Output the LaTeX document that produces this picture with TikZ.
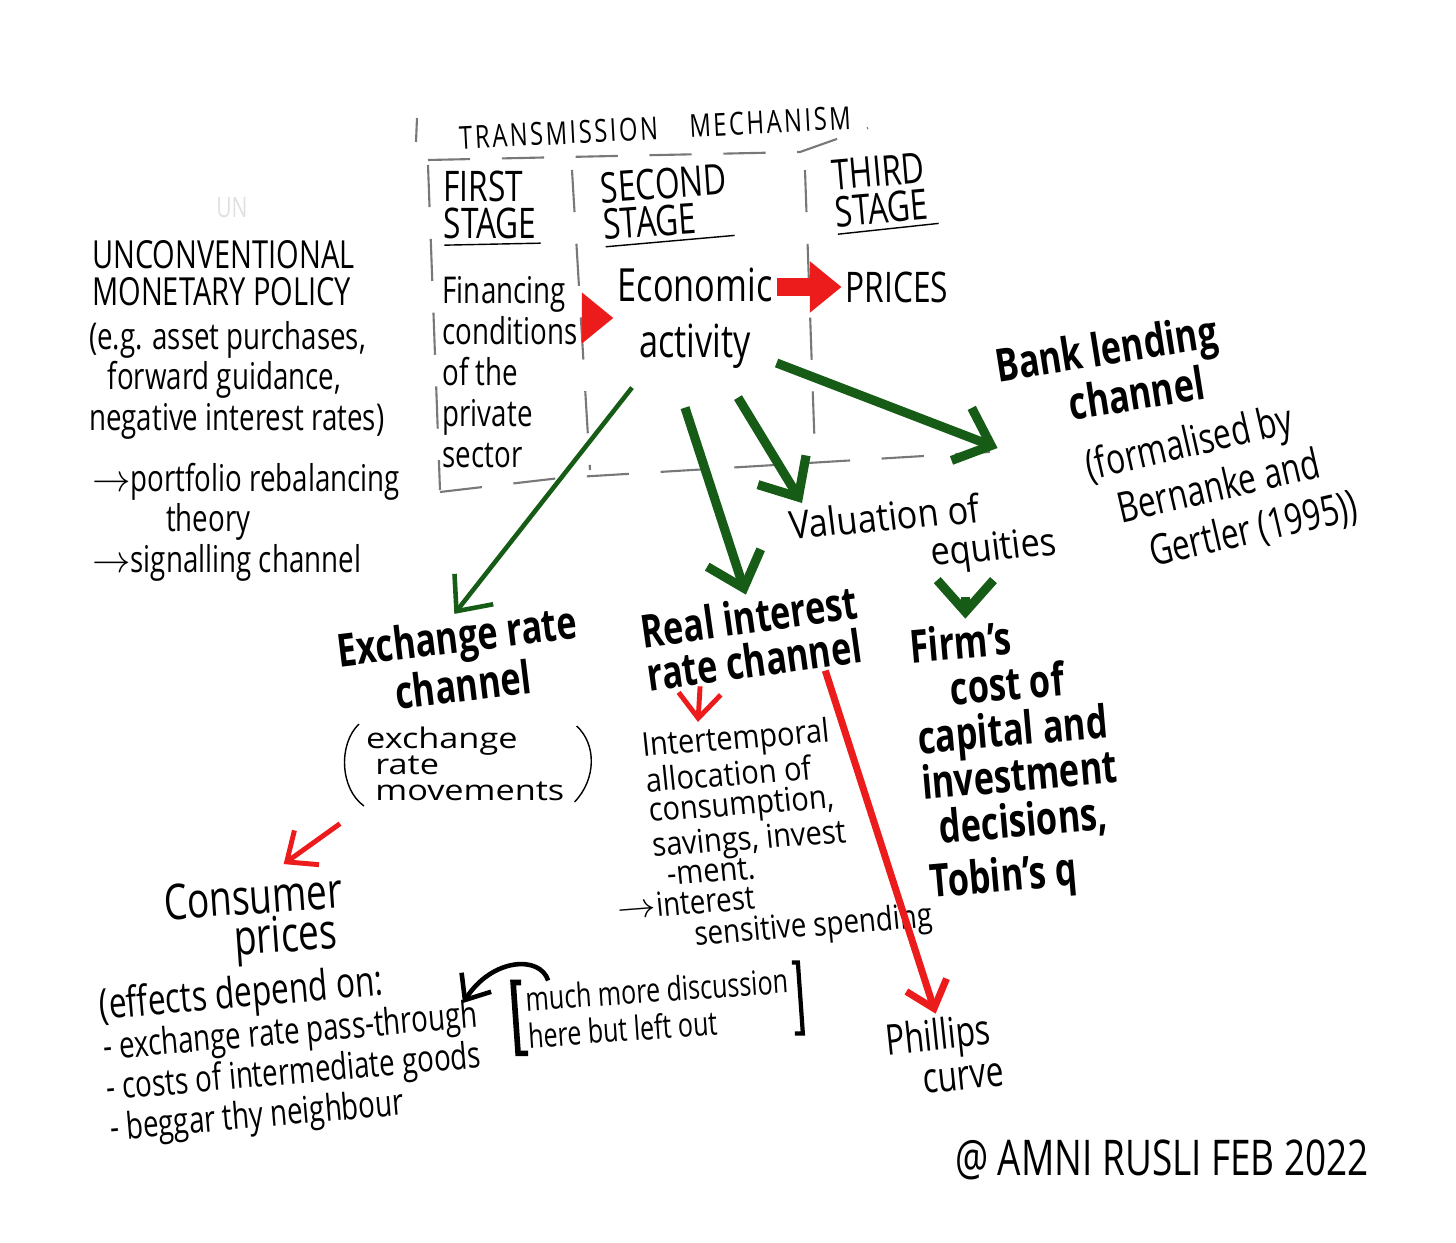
\documentclass[tikz,border=0pt]{standalone}
\usepackage{fontspec}
\setmainfont[FakeStretch=0.75]{Open Sans}
\usetikzlibrary{arrows.meta,calc}

\definecolor{inkgreen}{RGB}{22,92,22}
\definecolor{inkred}{RGB}{236,28,28}
\definecolor{boxgray}{RGB}{120,120,120}

\tikzset{
  pen/.style={font=\fontsize{10.5}{11.5}\selectfont, align=left, inner sep=1pt},
  penbig/.style={font=\fontsize{13}{15.5}\selectfont, align=center, inner sep=1pt},
  capsthin/.style={font=\fontsize{11}{10.5}\selectfont, align=left, inner sep=1pt},
  channel/.style={font=\bfseries\fontsize{13}{12.5}\selectfont, align=center, inner sep=1pt},
  stagebox/.style={boxgray, line width=0.6pt, dash pattern=on 12pt off 9pt},
  greenthick/.style={-{Straight Barb[length=9pt,width=16pt]}, inkgreen, line width=2.6pt},
  greenthin/.style={-{Straight Barb[length=8pt,width=14pt]}, inkgreen, line width=1.3pt},
  redthin/.style={-{Straight Barb[length=7pt,width=12pt]}, inkred, line width=1.4pt},
  redblock/.style={-{Triangle[length=9pt,width=14pt]}, inkred, line width=5pt},
}

\begin{document}
\begin{tikzpicture}[x=0.01cm, y=-0.01cm]
\useasboundingbox (0,0) rectangle (1456,1243);

%%%% Transmission mechanism box
\node[capsthin, rotate=3, font=\fontsize{9}{10}\selectfont\addfontfeature{LetterSpace=8}] (title) at (655,128) {TRANSMISSION\quad MECHANISM};
\draw[boxgray, line width=0.6pt] (417,118) -- (416,142);
\draw[stagebox] (428,160) -- (800,152) -- (868,128);
\draw[stagebox] (428,165) -- (440,490);
\draw[stagebox] (440,492) -- (560,478) -- (990,452);
\draw[stagebox] (572,170) -- (590,470);
\draw[stagebox] (805,170) -- (815,455);

%%%% Stage headers
\node[capsthin, font=\fontsize{12}{10.5}\selectfont] (first) at (490,205) {FIRST\\STAGE};
\node[capsthin, font=\fontsize{12}{10.5}\selectfont, rotate=4] (second) at (665,202) {SECOND\\STAGE};
\node[capsthin, font=\fontsize{12}{10.5}\selectfont, rotate=5] (third) at (880,190) {THIRD\\STAGE};
\draw ($(first.south west)+(5,2)$) -- ($(first.south east)+(0,0)$);
\draw ($(second.south west)+(5,2)$) -- ($(second.south east)+(0,0)$);
\draw ($(third.south west)+(5,2)$) -- ($(third.south east)+(5,0)$);

%%%% Stage contents
\node[pen, font=\fontsize{10.5}{11.7}\selectfont] (fin) at (510,372) {Financing\\conditions\\of the\\private\\sector};
\node[penbig, font=\fontsize{13}{16}\selectfont] (econ) at (695,318) {Economic\\activity};
\node[capsthin, font=\fontsize{12}{12}\selectfont] (prices) at (897,287) {PRICES};
\draw[redblock] (fin.east |- econ.west) -- (econ.west);
\draw[redblock] (econ.east |- prices.west) -- (prices.west);

%%%% Left column
\node[capsthin, text=black!12, font=\fontsize{8}{8}\selectfont] (un) at (232,208) {UN};
\node[capsthin, anchor=west] (ump) at (88,273) {UNCONVENTIONAL\\MONETARY POLICY};
\node[pen, anchor=west] (eg) at (85,380) {(e.g. asset purchases,\\\hspace{.5em}forward guidance,\\negative interest rates)};
\node[pen, anchor=west] (portf) at (88,522) {$\rightarrow$portfolio rebalancing\\\hspace{2em}theory\\$\rightarrow$signalling channel};

%%%% Channels
\node[channel, rotate=7] (exch) at (460,660) {Exchange rate\\channel};
\node[pen, font=\fontsize{13}{12}\selectfont, yscale=0.62, anchor=west] (exmove) at (362,764) {exchange\\\hspace{.2em}rate\\\hspace{.2em}movements};
\draw ($(exmove.west)+(-3,-40)$) .. controls ($(exmove.west)+(-24,-20)$) and ($(exmove.west)+(-22,25)$) .. ($(exmove.west)+(2,42)$);
\draw ($(exmove.east)+(8,-38)$) .. controls ($(exmove.east)+(28,-20)$) and ($(exmove.east)+(28,15)$) .. ($(exmove.east)+(6,38)$);
\node[channel, rotate=8, align=left] (realint) at (752,638) {Real interest\\rate channel};
\node[pen, font=\fontsize{13}{13}\selectfont, yscale=0.85, rotate=6, anchor=west] (val) at (788,549) {Valuation of\\\hspace{3em}equities};
\node[channel, rotate=5, align=left, font=\bfseries\fontsize{13}{13}\selectfont] (firm) at (1018,760) {Firm's\\\hspace{.8em}cost of\\capital and\\investment\\\hspace{.3em}decisions,\\[2pt]Tobin's q};
\node[channel, rotate=9] (bank) at (1110,372) {Bank lending\\\hspace{1em}channel};
\node[pen, font=\fontsize{12}{14}\selectfont, rotate=13] (bankref) at (1222,487) {(formalised by\\\hspace{.5em}Bernanke and\\\hspace{1em}Gertler (1995))};

%%%% Sub-effects
\node[pen, font=\fontsize{11}{10}\selectfont, yscale=0.85, rotate=5, anchor=north west] (inter) at (636,728) {Intertemporal\\allocation of\\consumption,\\savings, invest\\\hspace{.3em}-ment.};
\node[pen, font=\fontsize{10.5}{10}\selectfont, yscale=0.9, rotate=5, anchor=north west] (spend) at (612,892) {$\rightarrow$interest\\\hspace{2em}sensitive spending};
\node[penbig, font=\fontsize{14}{10}\selectfont, rotate=4] (consumer) at (255,922) {Consumer\\\hspace{1.2em}prices};
\node[pen, font=\fontsize{12}{12}\selectfont, rotate=6, align=center] (phillips) at (940,1055) {Phillips\\\hspace{1em}curve};
\node[pen, rotate=5] (effects) at (292,1052) {{\fontsize{12}{12}\selectfont(effects depend on:}\\- exchange rate pass-through\\- costs of intermediate goods\\- beggar thy neighbour};
\node[pen, font=\fontsize{9.5}{10.5}\selectfont, rotate=4, inner xsep=3pt] (disc) at (658,1008) {much more discussion\\here but left out};
\draw[line width=1.6pt] ($(disc.north west)+(8,0)$) -- (disc.north west) -- (disc.south west) -- ($(disc.south west)+(10,0)$);
\draw[line width=1.2pt] ($(disc.north east)+(-6,0)$) -- (disc.north east) -- (disc.south east) -- ($(disc.south east)+(-8,0)$);
\coordinate (passthru) at (463,1003);
\draw[-{Straight Barb[length=6pt,width=10pt]}, line width=1.3pt] ($(disc.north west)+(35,-2)$) .. controls (540,955) and (492,958) .. (passthru);

%%%% Signature
\node[penbig, font=\fontsize{14}{14}\selectfont] (sign) at (1162,1160) {@ AMNI RUSLI FEB 2022};

%%%% Green arrows
\coordinate (firmtop) at ($(firm.north)+(-40,3)$);
\draw[greenthin] ($(econ.south)+(-63,15)$) -- (exch.north);
\draw[greenthick] ($(econ.south)+(-10,35)$) -- (realint.north);
\draw[greenthick] ($(econ.south)+(43,25)$) -- ($(val.west)+(14,-46)$);
\draw[greenthick] ($(econ.east)+(0,45)$) -- ($(bank.south west)+(-5,12)$);
\draw[greenthick, shorten <=5pt] (val.south -| firmtop) -- (firmtop);

%%%% Red arrows
\draw[redthin] ($(realint.south)+(-58,5)$) -- ($(inter.north west)+(62,-6)$);
\draw[redthin, line width=2pt] ($(realint.south east)+(-45,5)$) -- (phillips.north);
\draw[redthin] ($(exmove.south west)+(-22,20)$) -- ($(consumer.north)+(32,-10)$);
\end{tikzpicture}
\end{document}
